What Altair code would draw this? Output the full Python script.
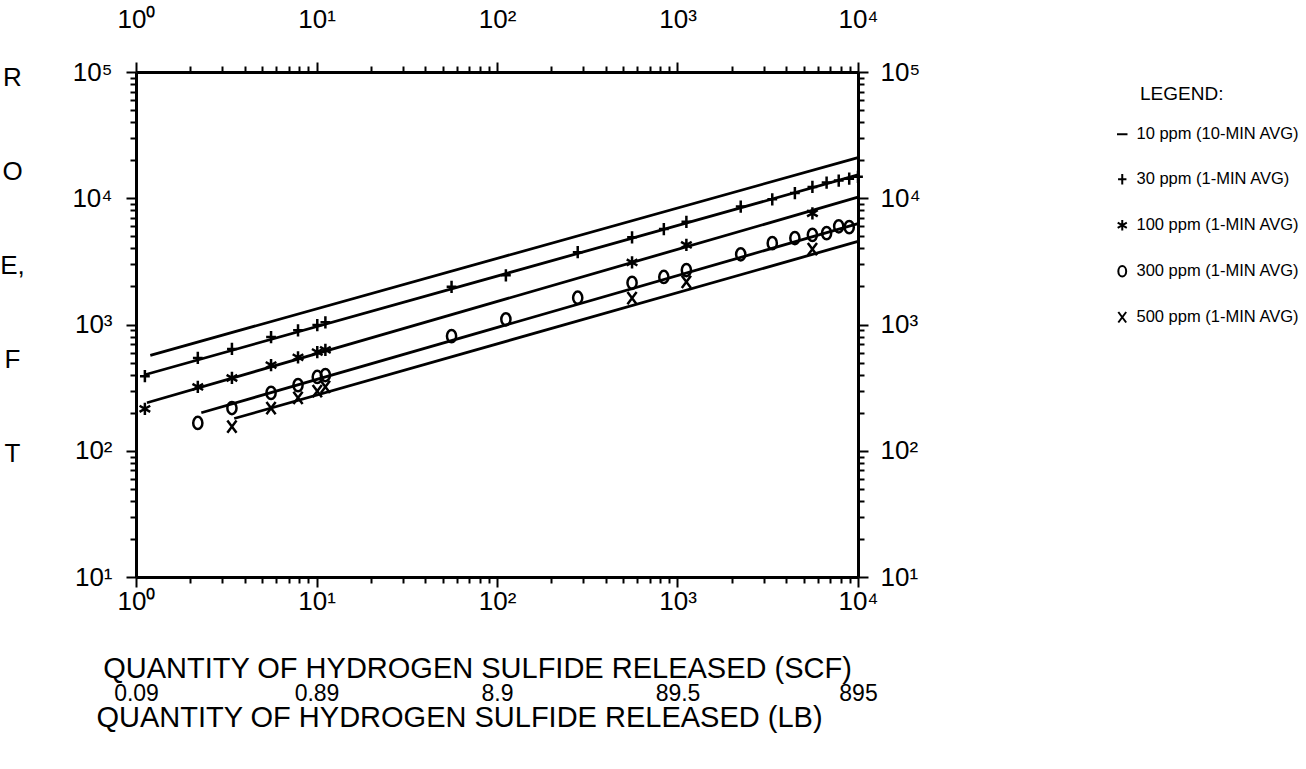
import json
import altair as alt
import pandas as pd

FONT = "Liberation Sans, Arial, Helvetica, sans-serif"

SERIES = ["10 ppm (10-MIN AVG)", "30 ppm (1-MIN AVG)", "100 ppm (1-MIN AVG)",
          "300 ppm (1-MIN AVG)", "500 ppm (1-MIN AVG)"]
SHAPES = [
    "M-1,0L1,0",
    "M-0.8,0L0.8,0M0,-1L0,1",
    "M0,-1L0,1M-0.87,-0.5L0.87,0.5M-0.87,0.5L0.87,-0.5",
    "M0,-1A0.75,1 0 1,1 0,1A0.75,1 0 1,1 0,-1Z",
    "M-0.75,-1L0.75,1M-0.75,1L0.75,-1",
]

# measured points (quantity released in SCF, radius of exposure in ft)
Q_30 = [1.12, 2.2, 3.4, 5.6, 7.9, 10.1, 11.2, 56, 112, 280, 560, 840, 1120,
        2240, 3350, 4470, 5590, 6700, 7820, 8940, 10000]
R_30 = [390, 543, 640, 795, 900, 990, 1040, 1990, 2450, 3740, 4900, 5700, 6500,
        8600, 9800, 11000, 12300, 13300, 13800, 14300, 14800]
Q_100 = [1.12, 2.2, 3.4, 5.6, 7.9, 10.1, 11.2, 560, 1120, 5590]
R_100 = [215, 320, 377, 477, 550, 605, 630, 3100, 4270, 7600]
Q_300 = [2.2, 3.4, 5.6, 7.9, 10.1, 11.2, 56, 112, 280, 560, 840, 1120, 2240,
         3350, 4470, 5590, 6700, 7820, 8940]
R_300 = [166, 218, 287, 331, 384, 398, 810, 1100, 1630, 2140, 2380, 2700, 3600,
         4410, 4840, 5130, 5300, 6000, 5900]
Q_500 = [3.4, 5.6, 7.9, 10.1, 11.2, 560, 1120, 5590]
R_500 = [155, 218, 262, 297, 320, 1620, 2180, 3950]

# fitted lines (start / end)
FIT_Q = {SERIES[0]: [1.2, 10000], SERIES[1]: [1.12, 10000], SERIES[2]: [1.15, 10000],
         SERIES[3]: [2.3, 10000], SERIES[4]: [3.5, 10000]}
FIT_R = {SERIES[0]: [570, 21000], SERIES[1]: [400, 15300], SERIES[2]: [240, 10200],
         SERIES[3]: [200, 6300], SERIES[4]: [180, 4550]}

X_TICKS = [m * 10 ** e for e in range(4) for m in range(1, 10)] + [10000]
Y_TICKS = [m * 10 ** e for e in range(1, 5) for m in range(1, 10)] + [100000]
X_MAJOR = [1, 10, 100, 1000, 10000]
LB_LABELS = ["0.09", "0.89", "8.9", "89.5", "895"]
SUPS = ["\u2070", "\u00b9", "\u00b2", "\u00b3", "\u2074", "\u2075"]

pts = []
for s, qs, rs in [(SERIES[1], Q_30, R_30), (SERIES[2], Q_100, R_100),
                  (SERIES[3], Q_300, R_300), (SERIES[4], Q_500, R_500)]:
    for q, r in zip(qs, rs):
        pts.append({"series": s, "q": q, "roe": r})
pts = pd.DataFrame(pts)

fit = []
for s in SERIES:
    for q, r in zip(FIT_Q[s], FIT_R[s]):
        fit.append({"series": s, "q": q, "roe": r})
fit = pd.DataFrame(fit)

EXP = "round(log(datum.value)/LN10)"
IS_MAJOR = f"abs(log(datum.value)/LN10 - {EXP}) < 0.000001"
SUP_EXPR = f"{IS_MAJOR} ? '10' + {json.dumps(SUPS)}[{EXP}] : ''"
LB_EXPR = f"{json.dumps(LB_LABELS)}[{EXP}]"
TICK = {"condition": {"test": IS_MAJOR, "value": 10}, "value": 6}

xscale = alt.Scale(type="log", domain=[1, 10000], nice=False)
yscale = alt.Scale(type="log", domain=[10, 100000], nice=False)

common = dict(grid=False, domainColor="black", tickColor="black", labelColor="black",
              titleColor="black", domainWidth=3, tickWidth=2, labelFont=FONT,
              titleFont=FONT, labelOverlap=False, labelFlush=False,
              titleFontWeight="normal")

lines = alt.Chart(fit).mark_line(color="black", strokeWidth=2.8).encode(
    x=alt.X("q:Q", scale=xscale, axis=alt.Axis(
        orient="bottom", values=X_TICKS, labelExpr=SUP_EXPR, tickSize=TICK,
        labelFontSize=26, labelPadding=22, labelBaseline="alphabetic",
        title="QUANTITY OF HYDROGEN SULFIDE RELEASED (SCF)", titleFontSize=29,
        titleX=341, titleY=100, titleBaseline="alphabetic", titleAlign="center",
        titleAnchor="middle", **common)),
    y=alt.Y("roe:Q", scale=yscale, axis=alt.Axis(
        orient="left", values=Y_TICKS, labelExpr=SUP_EXPR, tickSize=TICK,
        labelFontSize=26, labelPadding=14, labelBaseline="middle",
        title=["R", "O", "E,", "\u00a0", "F", "T"], titleFontSize=26,
        titleLineHeight=94, titleAngle=0, titleX=-124, titleY=-8,
        titleBaseline="top", titleAlign="center", **common)),
    detail="series:N",
)

points = alt.Chart(pts).mark_point(filled=False, color="black", strokeWidth=2.5,
                                    size=150, opacity=1).encode(
    x=alt.X("q:Q", scale=xscale, axis=alt.Axis(
        orient="top", values=X_TICKS, labelExpr=SUP_EXPR, tickSize=TICK,
        labelFontSize=26, labelPadding=35, labelBaseline="alphabetic",
        title=None, **common)),
    y=alt.Y("roe:Q", scale=yscale, axis=alt.Axis(
        orient="right", values=Y_TICKS, labelExpr=SUP_EXPR, tickSize=TICK,
        labelFontSize=26, labelPadding=12, labelBaseline="middle",
        title=None, **common)),
    shape=alt.Shape("series:N", scale=alt.Scale(domain=SERIES, range=SHAPES),
                    legend=alt.Legend(
                        title="LEGEND:", orient="none",
                        legendX=1004, legendY=13, titleFont=FONT, titleFontSize=19,
                        titleFontWeight="normal", titleColor="black",
                        labelFont=FONT, labelFontSize=16.5, labelColor="black",
                        labelLimit=0, symbolSize=110, symbolStrokeWidth=2,
                        symbolStrokeColor="black", symbolFillColor="transparent",
                        symbolOffset=-26, rowPadding=27, titlePadding=22,
                        labelOffset=6)),
)

lb_axis = alt.Chart(pts).mark_point(opacity=0).encode(
    x=alt.X("q:Q", scale=xscale, axis=alt.Axis(
        orient="bottom", values=X_MAJOR, labelExpr=LB_EXPR, domain=False,
        ticks=False, tickSize=0, labelFontSize=23, labelPadding=123,
        labelBaseline="alphabetic",
        title="QUANTITY OF HYDROGEN SULFIDE RELEASED (LB)", titleFontSize=29,
        titleX=323, titleY=149, titleBaseline="alphabetic", titleAlign="center",
        titleAnchor="middle", **common)),
    y=alt.Y("roe:Q", scale=yscale, axis=None),
)

chart = alt.layer(lines, points, lb_axis).resolve_axis(
    x="independent", y="independent"
).properties(
    width=722, height=505,
    autosize=alt.AutoSizeParams(type="none"),
    padding={"left": 136, "top": 72, "right": 448, "bottom": 192},
    background="white",
).configure_view(stroke=None)

chart.save("out.html", embed_options={"renderer": "svg", "actions": False})
